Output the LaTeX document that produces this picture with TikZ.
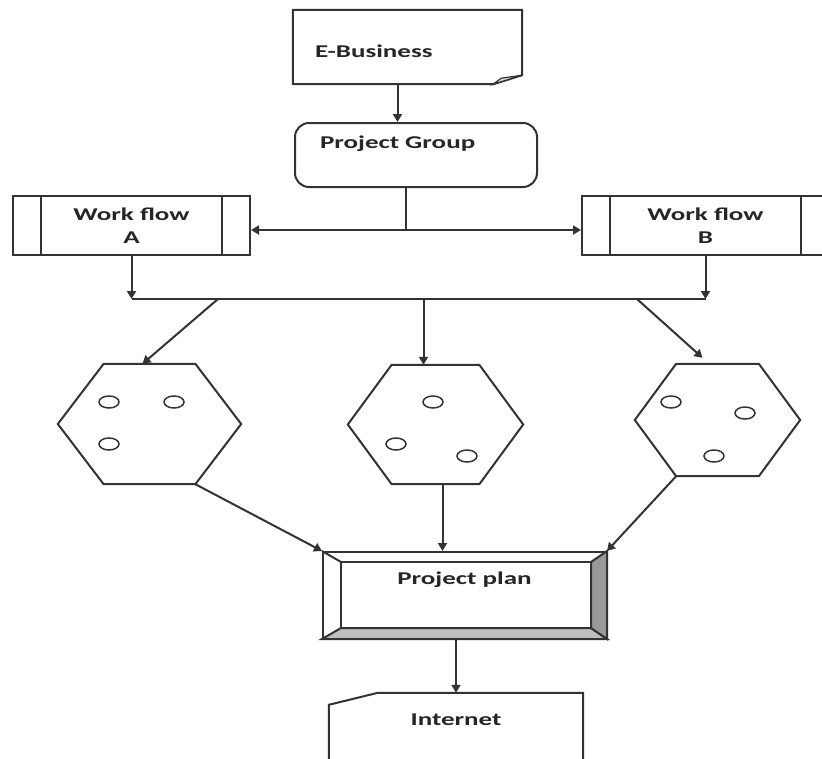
\documentclass[tikz,border=0pt]{standalone}
\usepackage{fontspec}
\newfontfamily\flowfont[FakeStretch=1.5]{Carlito}
\usetikzlibrary{
    arrows.meta,
    calc
}

\begin{document}
\begin{tikzpicture} [x=1pt, y=-1pt, inner sep=0pt,
    every node/.style={font=\flowfont\bfseries\fontsize{18}{23}\selectfont, text=black!85},
    line/.style={draw=black!80, line width=2pt},
    arrow/.style={line, -{Triangle[length=8pt,width=9pt]}},
    document/.style={minimum width=229pt, minimum height=74pt,
                  text width=185pt, align=left, text height=20pt, text depth=0pt},
    group/.style={line, rounded corners=14pt, minimum width=242pt, minimum height=64pt,
                  text width=192pt, align=left, text height=12pt, text depth=26pt},
    process/.style={line, minimum width=237pt, minimum height=59pt, align=center},
    cell/.style={minimum width=183pt, minimum height=120pt},
    plan/.style={line, minimum width=283pt, minimum height=86pt,
                  text height=12pt, text depth=34pt},
    card/.style={minimum width=254pt, minimum height=97pt,
                  text height=12pt, text depth=45pt}
]
    \useasboundingbox[fill=white] (0,0) rectangle (822,758);

    \node[document] (ebiz)          at (407.5,47)    {E-Business};
    \node[group]    (project group) at (416,155)     {Project Group};
    \node[process]  (flow A)        at (131.5,225.5) {Work flow\\A};
    \node[process, minimum width=247pt] (flow B) at (705.5,225.5) {Work flow\\B};
    \node[cell]     (hex left)      at (149.5,424)   {};
    \node[cell, minimum width=175pt, minimum height=119pt] (hex mid)   at (435.5,424.5) {};
    \node[cell, minimum width=165pt, minimum height=112pt] (hex right) at (717.5,420)   {};
    \node[plan]     (project plan)  at (464.5,595)   {Project plan};
    \node[card]     (internet)      at (456,741.5)   {Internet};

    \coordinate (split)     at (406,230);
    \coordinate (bus)       at (418,299);
    \coordinate (tap left)  at (218,299);
    \coordinate (tap right) at (637,299);

    % shapes
    \draw[line] (ebiz.north west) -- (ebiz.north east) -- ($(ebiz.south east)+(0,-9)$)
        -- ($(ebiz.south east)+(-29,0)$) -- (ebiz.south west) -- cycle;
    \filldraw[line, line width=1.2pt, fill=gray!30] ($(ebiz.south east)+(-29,0)$)
        -- ($(ebiz.south east)+(-21,-6)$) -- ($(ebiz.south east)+(0,-9)$) -- cycle;

    \foreach \w in {flow A,flow B}
        \draw[line] ($(\w.north west)+(29,0)$) -- ($(\w.south west)+(29,0)$)
                    ($(\w.north east)+(-29,0)$) -- ($(\w.south east)+(-29,0)$);

    \foreach \h in {hex left,hex mid,hex right}
        \draw[line] ($(\h.north west)!.25!(\h.north east)$) -- ($(\h.north west)!.75!(\h.north east)$)
            -- (\h.east) -- ($(\h.south west)!.75!(\h.south east)$)
            -- ($(\h.south west)!.25!(\h.south east)$) -- (\h.west) -- cycle;

    \foreach \x/\y in {109/402, 174/402, 109/444, 433/402, 396/444, 467/456,
                       671/402, 745/413, 714/456}
        \draw[line, line width=1.5pt] (\x,\y) ellipse [x radius=10pt, y radius=6pt];

    \coordinate (in nw) at ($(project plan.north west)+(19,11)$);
    \coordinate (in ne) at ($(project plan.north east)+(-16,11)$);
    \coordinate (in se) at ($(project plan.south east)+(-16,-11)$);
    \coordinate (in sw) at ($(project plan.south west)+(19,-11)$);
    \filldraw[line, fill=gray!50] (project plan.south west) -- (project plan.south east)
        -- (in se) -- (in sw) -- cycle;
    \filldraw[line, fill=gray!80] (project plan.north east) -- (project plan.south east)
        -- (in se) -- (in ne) -- cycle;
    \draw[line] (in nw) rectangle (in se);
    \draw[line] (project plan.north west) -- (in nw);

    \draw[line] (internet.south west) -- ($(internet.north west)+(0,12)$)
        -- ($(internet.north west)+(49,0)$) -- (internet.north east) -- (internet.south east);

    % connectors
    \draw[arrow] ([xshift=-10pt]ebiz.south) -- ([xshift=-10pt]ebiz.south |- project group.north);
    \draw[line]  (split |- project group.south) -- (split);
    \draw[arrow] (split) -- (split -| flow A.east);
    \draw[arrow] (split) -- (split -| flow B.west);

    \draw[arrow] (flow A.south) -- (flow A.south |- bus);
    \draw[arrow] (flow B.south) -- (flow B.south |- bus);
    \draw[line]  (flow A.south |- bus) -- (flow B.south |- bus);

    \draw[arrow] (tap left) -- ([xshift=-7pt]hex left.north);
    \draw[arrow] ([xshift=-12pt]hex mid.north |- bus) -- ([xshift=-12pt]hex mid.north);
    \draw[arrow] (tap right) -- ([shift={(-15pt,6pt)}]hex right.north);

    \draw[arrow] ($(hex left.south west)!.75!(hex left.south east)$) -- (project plan.north west);
    \draw[arrow] ([xshift=7pt]hex mid.south) -- ([xshift=7pt]hex mid.south |- project plan.north);
    \draw[arrow] ($(hex right.south west)!.25!(hex right.south east)$) -- (project plan.north east);
    \draw[arrow] (internet.north |- project plan.south) -- (internet.north);
\end{tikzpicture}
\end{document}
